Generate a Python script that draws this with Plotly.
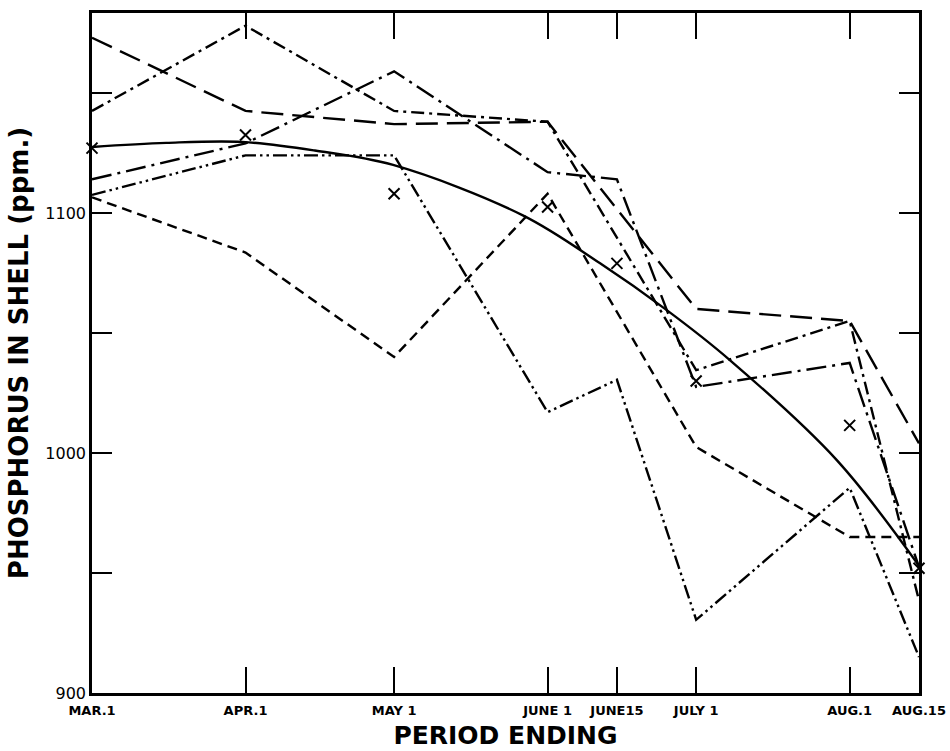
import plotly.graph_objects as go

# Days after March 1 for each "period ending" date
period_days = [0, 31, 61, 92, 106, 122, 153, 167]
period_labels = ["MAR.1", "APR.1", "MAY 1", "JUNE 1", "JUNE15", "JULY 1", "AUG.1", "AUG.15"]

# Individual series (ppm phosphorus in shell); None = no reading at that date
long_dash = [1173, 1142.5, 1137, 1138, None, 1060, 1055, 1004]
dash_dot_a = [1142.5, 1178, 1142.5, 1138, None, 1034.5, 1055, 938.5]
dash_dot_b = [1114, 1129, 1159, 1117, 1114, 1027.5, 1037.5, 952.5]
short_dash = [1106.5, 1083.5, 1040, 1108, None, 1002.5, 965, 965]
dash_dot_dot = [1107.5, 1124, 1124, 1017, 1030.5, 930.5, 985.5, 915]

# Mean values (X marks)
mean_values = [1127, 1132.5, 1108, 1102.5, 1079, 1030, 1011.5, 952]

# Fitted smooth curve, read at points along it
curve_days = [0, 15, 30.3, 45, 60.8, 87, 102.6, 116, 128.8, 150.4, 167]
curve_values = [1127.5, 1129.2, 1129.6, 1126, 1120, 1099, 1079, 1059.6, 1038.7, 997, 953]

y_tick_vals = [900, 950, 1000, 1050, 1100, 1150]
y_tick_text = ["900", "", "1000", "", "1100", ""]

fig = go.Figure()

line_w = 2.4
series = [
    (long_dash, "22px,9px"),
    (dash_dot_a, "13px,5px,3px,5px"),
    (dash_dot_b, "20px,6px,3px,6px"),
    (short_dash, "10px,6px"),
    (dash_dot_dot, "14px,4px,2.5px,4px,2.5px,4px"),
]
for vals, dash in series:
    fig.add_trace(go.Scatter(
        x=period_days, y=vals, mode="lines", connectgaps=True,
        line=dict(color="black", width=line_w, dash=dash),
        showlegend=False, hoverinfo="skip",
    ))

fig.add_trace(go.Scatter(
    x=curve_days, y=curve_values, mode="lines",
    line=dict(color="black", width=2.4, shape="spline", smoothing=1.0),
    showlegend=False, hoverinfo="skip",
))

fig.add_trace(go.Scatter(
    x=period_days, y=mean_values, mode="markers", cliponaxis=False,
    marker=dict(symbol="x-thin", size=11, line=dict(color="black", width=2)),
    showlegend=False, hoverinfo="skip",
))

fig.update_layout(
    width=950, height=751, autosize=False,
    margin=dict(l=92, r=31, t=13, b=58),
    paper_bgcolor="white", plot_bgcolor="white",
    font=dict(family="DejaVu Sans", color="black"),
)

fig.update_xaxes(
    range=[0, 167], tickvals=period_days, ticktext=period_labels,
    automargin=False,
    ticks="inside", ticklen=26, tickwidth=1.5, tickcolor="black",
    ticklabelstandoff=4,
    showline=True, linewidth=2.5, linecolor="black", mirror="ticks",
    showgrid=False, zeroline=False,
    tickfont=dict(family="DejaVu Sans", size=13, weight="bold"),
    title=dict(text="PERIOD ENDING", standoff=10,
               font=dict(family="DejaVu Sans", size=25, weight="bold")),
)
fig.update_yaxes(
    range=[900, 1183.3], tickvals=y_tick_vals, ticktext=y_tick_text,
    automargin=False,
    ticks="inside", ticklen=20, tickwidth=1.5, tickcolor="black",
    showline=True, linewidth=2.5, linecolor="black", mirror="ticks",
    showgrid=False, zeroline=False,
    tickfont=dict(family="DejaVu Sans", size=16),
    title=dict(text="PHOSPHORUS IN SHELL (ppm.)", standoff=10,
               font=dict(family="DejaVu Sans", size=26, weight="bold")),
)

fig.write_html("out.html")
